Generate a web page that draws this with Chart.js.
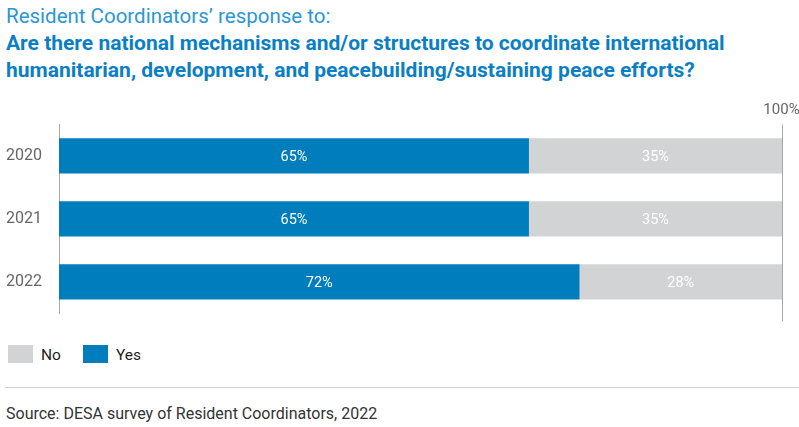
<!DOCTYPE html>
<html>
<head>
<meta charset="utf-8">
<script src="https://cdn.jsdelivr.net/npm/chart.js@4/dist/chart.umd.min.js"></script>
<style>
  body { margin: 0; width: 799px; height: 427px; background: #fff; font-family: Roboto, sans-serif; position: relative; overflow: hidden; }
  #t1 { position: absolute; left: 6px; top: 4px; font-size: 20.5px; color: #2a97d4; white-space: nowrap; }
  .tb { position: absolute; left: 6px; font-size: 21px; font-weight: bold; color: #0b7fc3; white-space: nowrap; }
  #wrap { position: absolute; left: 0; top: 0; width: 799px; height: 340px; }
  #legend { position: absolute; left: 8px; top: 346px; font-size: 15.5px; color: #222; }
  #legend span.sw { display: inline-block; width: 25px; height: 18px; vertical-align: middle; margin-right: 8px; position: relative; top: -2px; }
  #legend span.it { display: inline-block; margin-right: 22px; }
  #rule { position: absolute; left: 5px; right: 0; top: 387px; border-top: 1px solid #cfcfcf; }
  #src { position: absolute; left: 6px; top: 404px; font-size: 16px; color: #333; }
</style>
</head>
<body>
<div id="t1">Resident Coordinators’ response to:</div>
<div class="tb" style="top:31px">Are there national mechanisms and/or structures to coordinate international</div>
<div class="tb" style="top:58px">humanitarian, development, and peacebuilding/sustaining peace efforts?</div>
<div id="wrap"><canvas id="grafica"></canvas></div>
<div id="legend"></div>
<div id="rule"></div>
<div id="src">Source: DESA survey of Resident Coordinators, 2022</div>
<script>
// datos de la grafica
const anios = ['2020', '2021', '2022'];
const si = [65, 65, 72];
const no = [35, 35, 28];
const colorSi = '#007dbd';
const colorNo = '#d2d3d5';

// etiquetas dentro de las barras
const etiquetas = {
    id: 'etiquetas',
    afterDatasetsDraw(chart) {
        const ctx = chart.ctx;
        ctx.save();
        ctx.font = '14.5px Roboto';
        ctx.fillStyle = '#ffffff';
        ctx.textAlign = 'center';
        ctx.textBaseline = 'middle';
        chart.data.datasets.forEach((ds, i) => {
            chart.getDatasetMeta(i).data.forEach((bar, j) => {
                ctx.fillText(ds.data[j] + '%', (bar.x + bar.base) / 2, bar.y + 1);
            });
        });
        ctx.restore();
    }
};

// linea del 100%
const linea100 = {
    id: 'linea100',
    afterDraw(chart) {
        const ctx = chart.ctx;
        const x = Math.round(chart.scales.x.getPixelForValue(100)) + 0.5;
        ctx.save();
        ctx.strokeStyle = '#a6a6a6';
        ctx.lineWidth = 1;
        ctx.beginPath();
        ctx.moveTo(x, chart.chartArea.top);
        ctx.lineTo(x, chart.chartArea.bottom + 8);
        ctx.stroke();
        ctx.font = '15px Roboto';
        ctx.fillStyle = '#666';
        ctx.textAlign = 'center';
        ctx.textBaseline = 'alphabetic';
        ctx.fillText('100%', x - 1, chart.chartArea.top - 11);
        ctx.restore();
    }
};

window.onload = function () {
    Chart.defaults.font.family = 'Roboto';
    const ctx = document.getElementById('grafica').getContext('2d');
    const grafica = new Chart(ctx, {
        type: 'bar',
        data: {
            labels: anios,
            datasets: [
                { label: 'Yes', data: si, backgroundColor: colorSi, borderWidth: 0 },
                { label: 'No', data: no, backgroundColor: colorNo, borderWidth: 0 }
            ]
        },
        options: {
            indexAxis: 'y',
            responsive: true,
            maintainAspectRatio: false,
            animation: false,
            barPercentage: 0.56,
            categoryPercentage: 1,
            layout: { padding: { left: 0, right: 17, top: 124.5, bottom: 20.5 } },
            plugins: { legend: { display: false }, tooltip: { enabled: false } },
            scales: {
                x: { stacked: true, min: 0, max: 100, display: false },
                y: {
                    stacked: true,
                    grid: { display: false, drawTicks: false },
                    border: { display: true, color: '#a6a6a6', width: 1 },
                    ticks: { color: '#666', font: { size: 16 }, padding: 17 },
                    afterFit(s) { s.width = 59; }
                }
            }
        },
        plugins: [etiquetas, linea100]
    });

    // leyenda: No primero, luego Yes
    const leyenda = document.getElementById('legend');
    [{ t: 'No', c: colorNo }, { t: 'Yes', c: colorSi }].forEach(it => {
        const s = document.createElement('span');
        s.className = 'it';
        s.innerHTML = '<span class="sw" style="background:' + it.c + '"></span>' + it.t;
        leyenda.appendChild(s);
    });
};
</script>
</body>
</html>
